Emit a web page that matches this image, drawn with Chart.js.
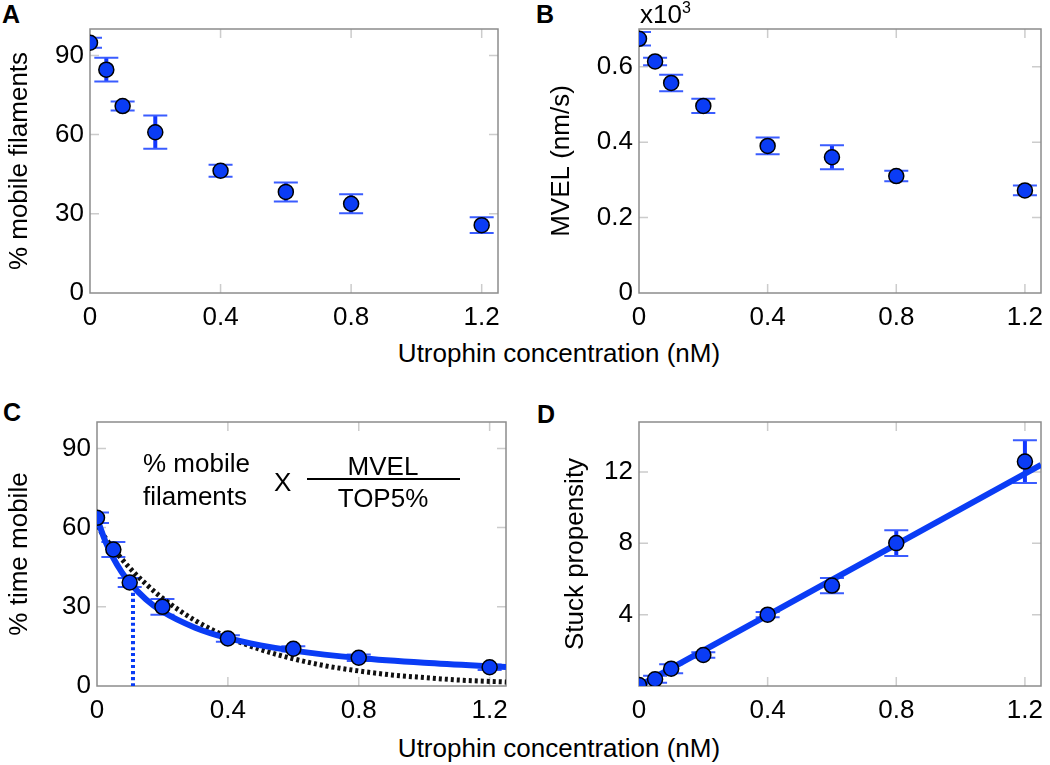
<!DOCTYPE html>
<html>
<head>
<meta charset="utf-8">
<script src="https://cdn.jsdelivr.net/npm/chart.js@4.4.1/dist/chart.umd.min.js"></script>
<style>
body { margin:0; background:#fff; width:1050px; height:765px; position:relative; overflow:hidden; font-family:"Liberation Sans", Arial, sans-serif; }
canvas { position:absolute; }
.t { position:absolute; font-size:26px; line-height:1; color:#000; white-space:nowrap; }
.c { transform:translateX(-50%); }
.lbl { position:absolute; font-size:25px; line-height:1; font-weight:bold; }
</style>
</head>
<body>
<div class="lbl" style="left:2px;top:2px">A</div>
<div class="lbl" style="left:536px;top:2px">B</div>
<div class="lbl" style="left:3px;top:400px">C</div>
<div class="lbl" style="left:537px;top:402px">D</div>

<canvas id="chA" width="525" height="335" style="left:0;top:0"></canvas>
<canvas id="chB" width="525" height="335" style="left:525px;top:0"></canvas>
<canvas id="chC" width="525" height="340" style="left:0;top:380px"></canvas>
<canvas id="chD" width="525" height="340" style="left:525px;top:380px"></canvas>

<div class="t" style="left:640px;top:1px">x10<span style="font-size:16px;position:relative;top:-10px">3</span></div>
<div class="t c" style="left:559px;top:340px">Utrophin concentration (nM)</div>
<div class="t c" style="left:559px;top:735px">Utrophin concentration (nM)</div>

<div class="t" style="left:143px;top:450px">% mobile</div>
<div class="t" style="left:143px;top:483px">filaments</div>
<div class="t" style="left:274px;top:469px">X</div>
<div class="t c" style="left:383px;top:453px">MVEL</div>
<div style="position:absolute;left:307px;top:478px;width:153px;height:2px;background:#000"></div>
<div class="t c" style="left:383px;top:485px">TOP5%</div>

<script>
// utrophin concentration (nM)
var conc = [0, 0.05, 0.1, 0.2, 0.4, 0.6, 0.8, 1.2];
var xTicks = [0, 0.4, 0.8, 1.2];

// A
var mobile = [94.8, 84.6, 70.8, 60.9, 46.3, 38.3, 33.8, 25.7];
var mobileErr = [1.9, 4.5, 1.7, 6.3, 2.3, 3.6, 3.6, 3.0];
var mobileTicks = [0, 30, 60, 90];

// B (x10^3 nm/s)
var mvel = [0.674, 0.614, 0.557, 0.496, 0.390, 0.360, 0.310, 0.272];
var mvelErr = [0.018, 0.010, 0.022, 0.019, 0.022, 0.032, 0.014, 0.013];
var mvelTicks = [0, 0.2, 0.4, 0.6];

// C
var timeMobile = [63.7, 51.7, 39.2, 30.0, 18.0, 14.1, 10.7, 7.1];
var timeMobileErr = [2.0, 2.8, 1.7, 3.0, 1.2, 1.0, 1.2, 1.0];
var timeTicks = [0, 30, 60, 90];
var fitX = [0, 0.025, 0.05, 0.075, 0.1, 0.15, 0.2, 0.3, 0.4, 0.5, 0.6, 0.8, 1.0, 1.25];
var fitY = [63.5, 55.0, 48.4, 43.2, 39.1, 32.8, 28.2, 22.1, 18.1, 15.4, 13.4, 10.6, 8.8, 7.2];
var expX = [0, 0.05, 0.1, 0.15, 0.2, 0.3, 0.4, 0.5, 0.6, 0.7, 0.8, 0.9, 1.0, 1.1, 1.25];
var expY = [60.5, 52.0, 44.7, 38.6, 33.3, 24.8, 18.5, 13.8, 10.3, 7.6, 5.7, 4.2, 3.2, 2.3, 1.5];
var halfX = [0.11, 0.11];
var halfY = [0, 37.5];

// D
var stuck = [0.05, 0.38, 0.97, 1.74, 4.0, 5.63, 8.01, 12.58];
var stuckErr = [0.1, 0.2, 0.25, 0.15, 0.15, 0.43, 0.72, 1.2];
var stuckTicks = [4, 8, 12];
var lineX = [0, 1.25];
var lineY = [0, 12.4];

var FONT = "'Liberation Sans', Arial, sans-serif";
var BLUE = '#0a3cf5';

function pts(xs, ys) {
  return xs.map(function (x, i) { return { x: x, y: ys[i] }; });
}

// inner tick marks + grey box
var frame = {
  id: 'frame',
  beforeDatasetsDraw: function (chart) {
    var ctx = chart.ctx, a = chart.chartArea, sx = chart.scales.x, sy = chart.scales.y;
    ctx.save();
    ctx.strokeStyle = '#cccccc';
    ctx.lineWidth = 1.5;
    ctx.beginPath();
    sx.ticks.forEach(function (t) {
      var p = sx.getPixelForValue(t.value);
      if (p <= a.left + 2) return;
      ctx.moveTo(p, a.top); ctx.lineTo(p, a.top + 9);
      ctx.moveTo(p, a.bottom); ctx.lineTo(p, a.bottom - 9);
    });
    sy.ticks.forEach(function (t) {
      var p = sy.getPixelForValue(t.value);
      if (p >= a.bottom - 2) return;
      ctx.moveTo(a.left, p); ctx.lineTo(a.left + 9, p);
      ctx.moveTo(a.right, p); ctx.lineTo(a.right - 9, p);
    });
    ctx.stroke();
    ctx.strokeStyle = '#8c8c8c';
    ctx.lineWidth = 1.5;
    ctx.strokeRect(a.left, a.top, a.right - a.left, a.bottom - a.top);
    ctx.restore();
  }
};

var errorBars = {
  id: 'errorBars',
  beforeDatasetsDraw: function (chart) {
    var ctx = chart.ctx, a = chart.chartArea, sx = chart.scales.x, sy = chart.scales.y;
    ctx.save();
    ctx.beginPath();
    ctx.rect(a.left, a.top, a.right - a.left, a.bottom - a.top);
    ctx.clip();
    chart.data.datasets.forEach(function (ds) {
      if (!ds.errors) return;
      ds.data.forEach(function (p, i) {
        var px = sx.getPixelForValue(p.x);
        var top = sy.getPixelForValue(p.y + ds.errors[i]);
        var bot = sy.getPixelForValue(p.y - ds.errors[i]);
        ctx.strokeStyle = '#1236ff';
        ctx.lineWidth = 4;
        ctx.beginPath(); ctx.moveTo(px, top); ctx.lineTo(px, bot); ctx.stroke();
        ctx.strokeStyle = '#3a5cff';
        ctx.lineWidth = 2;
        ctx.beginPath();
        ctx.moveTo(px - 12, top); ctx.lineTo(px + 12, top);
        ctx.moveTo(px - 12, bot); ctx.lineTo(px + 12, bot);
        ctx.stroke();
      });
    });
    ctx.restore();
  }
};

function pointSet(xs, ys, errs) {
  return {
    data: pts(xs, ys), errors: errs, clip: 0,
    pointRadius: 7.5, pointBorderWidth: 1.5, pointBorderColor: '#000',
    pointBackgroundColor: BLUE, showLine: false
  };
}

function lineSet(xs, ys, color, width, dash) {
  return {
    data: pts(xs, ys), showLine: true, pointRadius: 0, clip: 0,
    borderColor: color, borderWidth: width, borderDash: dash || [],
    cubicInterpolationMode: 'monotone', fill: false
  };
}

function makeChart(id, o) {
  return new Chart(document.getElementById(id), {
    type: 'scatter',
    data: { datasets: o.datasets },
    plugins: [frame, errorBars],
    options: {
      responsive: false, animation: false, devicePixelRatio: 1,
      layout: { padding: { top: o.top, right: o.right, left: 0, bottom: 0 } },
      plugins: { legend: { display: false }, tooltip: { enabled: false } },
      scales: {
        x: {
          type: 'linear', min: 0, max: 1.25,
          grid: { display: false }, border: { display: false },
          ticks: { color: '#000', font: { size: 26, family: FONT }, padding: 1, maxRotation: 0,
                   callback: function (v) { return String(v); } },
          afterBuildTicks: function (s) { s.ticks = xTicks.map(function (v) { return { value: v }; }); },
          afterFit: function (s) { s.height = o.xh; }
        },
        y: {
          type: 'linear', min: 0, max: o.ymax,
          grid: { display: false, drawTicks: false }, border: { display: false },
          ticks: { color: '#000', font: { size: 26, family: FONT }, padding: 6,
                   callback: function (v) { return String(v); } },
          afterBuildTicks: function (s) { s.ticks = o.yTicks.map(function (v) { return { value: v }; }); },
          afterFit: function (s) { s.width = o.yw; },
          title: { display: true, text: o.title, color: '#000', font: { size: 26, family: FONT },
                   padding: { top: o.tpad, bottom: 0 } }
        }
      }
    }
  });
}

makeChart('chA', {
  datasets: [pointSet(conc, mobile, mobileErr)],
  top: 29, right: 27, xh: 42, yw: 90, ymax: 100, yTicks: mobileTicks,
  title: '% mobile filaments', tpad: 4
});

makeChart('chB', {
  datasets: [pointSet(conc, mvel, mvelErr)],
  top: 29, right: 9, xh: 42, yw: 114, ymax: 0.7, yTicks: mvelTicks,
  title: 'MVEL (nm/s)', tpad: 21
});

makeChart('chC', {
  datasets: [
    pointSet(conc, timeMobile, timeMobileErr),
    lineSet(fitX, fitY, BLUE, 6),
    lineSet(expX, expY, '#111', 5, [3, 3]),
    lineSet(halfX, halfY, BLUE, 4, [3, 3])
  ],
  top: 42, right: 19, xh: 34, yw: 97, ymax: 100, yTicks: timeTicks,
  title: '% time mobile', tpad: 4
});

makeChart('chD', {
  datasets: [
    pointSet(conc, stuck, stuckErr),
    lineSet(lineX, lineY, BLUE, 6)
  ],
  top: 42, right: 9, xh: 34, yw: 114, ymax: 14.8, yTicks: stuckTicks,
  title: 'Stuck propensity', tpad: 35
});
</script>
</body>
</html>
